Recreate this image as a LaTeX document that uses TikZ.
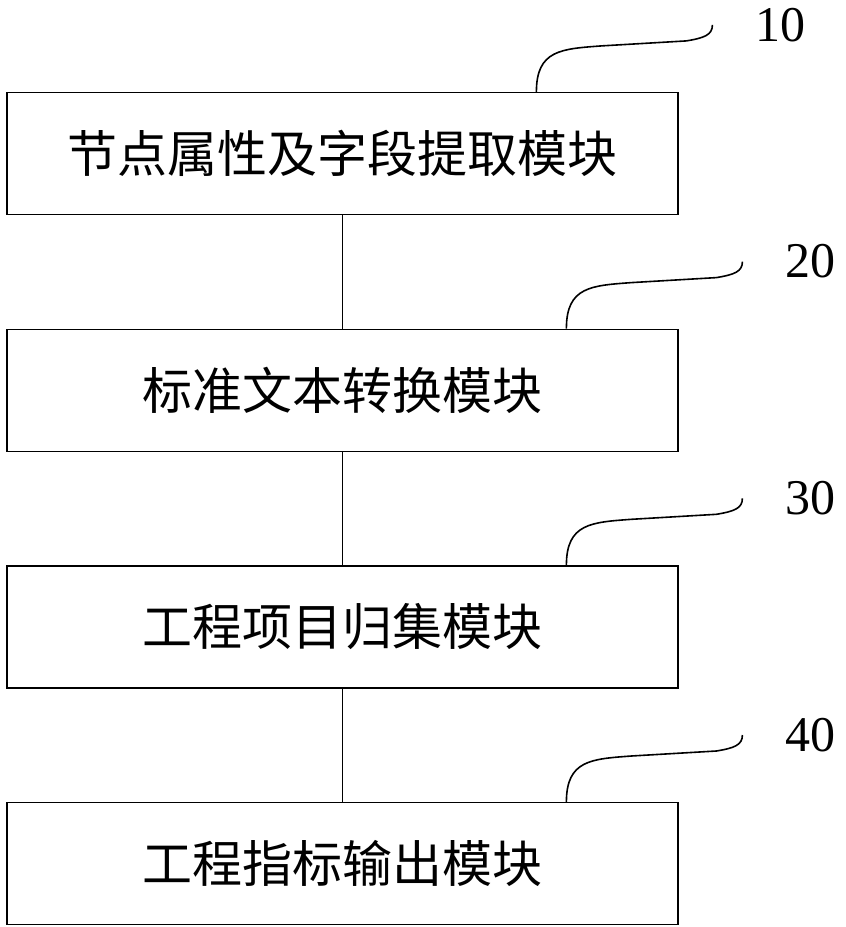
\documentclass[tikz,border=0pt]{standalone}
\usepackage{fontspec}
\setmainfont{Liberation Serif}
\newfontfamily\cjk{Noto Sans CJK SC}
\usetikzlibrary{positioning}

\begin{document}
\begin{tikzpicture}[
x=1pt, y=-1pt,
module/.style ={rectangle, draw, line width=1.2pt, minimum width=671pt, minimum height=122pt, font=\cjk\fontsize{50}{52}\selectfont},
line/.style   ={draw, line width=1.2pt},
leader/.style ={draw, line width=1.6pt},
tag/.style    ={font=\fontsize{50}{52}\selectfont},
node distance=113.5pt,
]

\useasboundingbox (0,0) rectangle (846,927);

% Define the nodes
\node[module] at (342.5,153.5)   (m1)    {节点属性及字段提取模块};
\node[module,   below=of m1]     (m2)    {标准文本转换模块};
\node[module,   below=of m2]     (m3)    {工程项目归集模块};
\node[module,   below=of m3]     (m4)    {工程指标输出模块};

% Connect the nodes
\path[line] (m1) -- (m2);
\path[line] (m2) -- (m3);
\path[line] (m3) -- (m4);

% Leaders and labels
\coordinate (s1) at ([xshift=530pt]m1.north west);
\coordinate (s2) at ([xshift=560pt]m2.north west);
\coordinate (s3) at ([xshift=560pt]m3.north west);
\coordinate (s4) at ([xshift=560pt]m4.north west);

\foreach \i/\t in {1/10, 2/20, 3/30, 4/40}{
  \path[leader] (s\i) .. controls ++(0,-42) and ++(-40,3) .. ++(65,-46) coordinate (h\i)
        -- ++(85,-5) coordinate (k\i)
        .. controls ++(18,-3) and ++(0,10) .. ++(26,-16) coordinate (e\i);
  \node[tag, right=40pt of e\i] (n\i) {\t};
}

\end{tikzpicture}
\end{document}
